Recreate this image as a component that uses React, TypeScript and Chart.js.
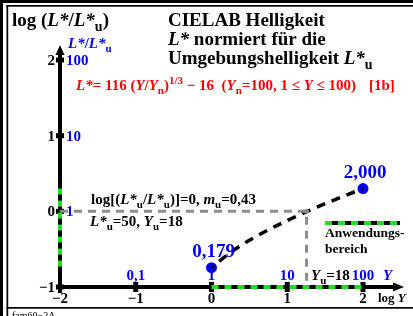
import React, { useEffect, useRef } from "react";
import { Chart, registerables } from "chart.js";
Chart.register(...registerables);

// ---- data ----
const curveLogY = [0, 0.25, 0.5, 0.75, 1, 1.25, 1.5, 1.75, 2];
const curveLogL = [-0.745, -0.544, -0.383, -0.245, -0.121, -0.007, 0.101, 0.203, 0.301];
const pointLogY = [0, 2];
const pointLogL = [-0.745, 0.301];
const pointLabels = ["0,179", "2,000"];
const refLineX = [-2, 1.255, 1.255];
const refLineY = [0, 0, -1];
const rangeYAxisX = [-2, -2];
const rangeYAxisY = [0.301, -0.745];
const rangeXAxisX = [0, 2];
const rangeXAxisY = [-1, -1];
const xTicks = [-2, -1, 0, 1, 2];
const xTickLabels = ["−2", "−1", "0", "1", "2"];
const yTicks = [-1, 0, 1, 2];
const yTickLabels = ["−1", "0", "1", "2"];
const xTopTicks = [-1, 0, 1, 2];
const xTopLabels = ["0,1", "1", "10", "100"];
const yRightTicks = [0, 1, 2];
const yRightLabels = ["1", "10", "100"];

const FAM = '"Liberation Serif", "DejaVu Serif", serif';
const BLUE = "#0000ff";
const RED = "#ff0000";
const GREEN = "#22dd22";

type Seg = { t: string; i?: boolean; sub?: boolean; sup?: boolean; n?: boolean };

function rich(
  ctx: CanvasRenderingContext2D,
  x: number,
  y: number,
  segs: Seg[],
  size: number,
  color: string,
  align: "left" | "center" | "right" = "left"
) {
  const font = (s: Seg) =>
    `${s.i ? "italic " : ""}${s.n ? "" : "bold "}${s.sub || s.sup ? Math.round(size * 0.72) : size}px ${FAM}`;
  let w = 0;
  for (const s of segs) {
    ctx.font = font(s);
    w += ctx.measureText(s.t).width;
  }
  let cx = align === "center" ? x - w / 2 : align === "right" ? x - w : x;
  ctx.fillStyle = color;
  ctx.textAlign = "left";
  ctx.textBaseline = "alphabetic";
  for (const s of segs) {
    ctx.font = font(s);
    const dy = s.sub ? size * 0.28 : s.sup ? -size * 0.42 : 0;
    ctx.fillText(s.t, cx, y + dy);
    cx += ctx.measureText(s.t).width;
  }
}

const decor = {
  id: "decor",
  beforeDatasetsDraw(chart: any) {
    const ctx: CanvasRenderingContext2D = chart.ctx;
    const xs = chart.scales.x;
    const ys = chart.scales.y;
    ctx.save();
    // frame
    ctx.fillStyle = "#000";
    ctx.fillRect(0, 0, 413, 3);
    ctx.fillRect(0, 0, 3, 316);
    ctx.fillRect(6.5, 5, 413, 1.7);
    ctx.fillRect(6.5, 5, 1.7, 316);
    ctx.fillRect(6.5, 307, 413, 1.7);

    const x0 = xs.getPixelForValue(-2);
    const y0 = ys.getPixelForValue(-1);
    const yTop = ys.getPixelForValue(2);
    const xRight = xs.getPixelForValue(2);
    ctx.strokeStyle = "#000";
    ctx.lineWidth = 4;
    ctx.beginPath();
    ctx.moveTo(x0, y0 + 6);
    ctx.lineTo(x0, yTop - 8);
    ctx.stroke();
    ctx.beginPath();
    ctx.moveTo(x0 - 2, y0);
    ctx.lineTo(xRight + 34, y0);
    ctx.stroke();
    // arrows
    ctx.beginPath();
    ctx.moveTo(x0, yTop - 15);
    ctx.lineTo(x0 - 4.5, yTop - 5);
    ctx.lineTo(x0 + 4.5, yTop - 5);
    ctx.closePath();
    ctx.fill();
    ctx.beginPath();
    ctx.moveTo(xRight + 41, y0);
    ctx.lineTo(xRight + 30, y0 - 4.5);
    ctx.lineTo(xRight + 30, y0 + 4.5);
    ctx.closePath();
    ctx.fill();
    // ticks
    for (const t of yTicks) {
      const py = ys.getPixelForValue(t);
      ctx.fillRect(x0 - 4, py - 2.5, 8, 5);
    }
    for (const t of xTicks) {
      if (t === -2) continue;
      const px = xs.getPixelForValue(t);
      ctx.fillRect(px - 2.5, y0 - 5, 5, 10);
    }
    ctx.restore();
  },
  afterDatasetsDraw(chart: any) {
    const ctx: CanvasRenderingContext2D = chart.ctx;
    const xs = chart.scales.x;
    const ys = chart.scales.y;
    const x0 = xs.getPixelForValue(-2);
    const y0 = ys.getPixelForValue(-1);
    ctx.save();
    // titles
    rich(ctx, 12, 26, [{ t: "log (" }, { t: "L*", i: true }, { t: "/" }, { t: "L*", i: true }, { t: "u", sub: true }, { t: ")" }], 19, "#000");
    rich(ctx, 168, 26, [{ t: "CIELAB Helligkeit" }], 19, "#000");
    rich(ctx, 168, 45, [{ t: "L*", i: true }, { t: " normiert für die" }], 19, "#000");
    rich(ctx, 168, 64, [{ t: "Umgebungshelligkeit " }, { t: "L*", i: true }, { t: "u", sub: true }], 19, "#000");
    rich(
      ctx,
      76,
      90,
      [
        { t: "L*", i: true },
        { t: "= 116 (" },
        { t: "Y", i: true },
        { t: "/" },
        { t: "Y", i: true },
        { t: "n", sub: true },
        { t: ")" },
        { t: "1/3", sup: true },
        { t: " − 16  (" },
        { t: "Y", i: true },
        { t: "n", sub: true },
        { t: "=100, 1 ≤ " },
        { t: "Y", i: true },
        { t: " ≤ 100)" },
      ],
      15,
      RED
    );
    rich(ctx, 369, 90, [{ t: "[1b]" }], 15, RED);
    // y axis labels
    rich(ctx, 68, 48, [{ t: "L*", i: true }, { t: "/" }, { t: "L*", i: true }, { t: "u", sub: true }], 15, BLUE);
    yTicks.forEach((t, k) => {
      const py = ys.getPixelForValue(t);
      rich(ctx, x0 - 5, py + 5, [{ t: yTickLabels[k] }], 15, "#000", "right");
    });
    yRightTicks.forEach((t, k) => {
      const py = ys.getPixelForValue(t);
      rich(ctx, x0 + 6, py + 5, [{ t: yRightLabels[k] }], 15, BLUE);
    });
    // x axis labels
    xTicks.forEach((t, k) => {
      const px = xs.getPixelForValue(t);
      rich(ctx, px, y0 + 16, [{ t: xTickLabels[k] }], 15, "#000", "center");
    });
    xTopTicks.forEach((t, k) => {
      const px = xs.getPixelForValue(t);
      rich(ctx, px, y0 - 7, [{ t: xTopLabels[k] }], 15, BLUE, "center");
    });
    rich(ctx, xs.getPixelForValue(2) + 20, y0 - 7, [{ t: "Y", i: true }], 15, BLUE);
    rich(ctx, 378, y0 + 15, [{ t: "log " }, { t: "Y", i: true }], 13, "#000");
    rich(ctx, 311, y0 - 7, [{ t: "Y", i: true }, { t: "u", sub: true }, { t: "=18" }], 15, "#000");
    // annotations
    rich(
      ctx,
      91,
      204,
      [
        { t: "log[(" },
        { t: "L*", i: true },
        { t: "u", sub: true },
        { t: "/" },
        { t: "L*", i: true },
        { t: "u", sub: true },
        { t: ")]=0, " },
        { t: "m", i: true },
        { t: "u", sub: true },
        { t: "=0,43" },
      ],
      15,
      "#000"
    );
    rich(ctx, 90, 226, [{ t: "L*", i: true }, { t: "u", sub: true }, { t: "=50, " }, { t: "Y", i: true }, { t: "u", sub: true }, { t: "=18" }], 15, "#000");
    // point labels
    rich(ctx, xs.getPixelForValue(pointLogY[0]) + 2, ys.getPixelForValue(pointLogL[0]) - 11, [{ t: pointLabels[0] }], 19, BLUE, "center");
    rich(ctx, xs.getPixelForValue(pointLogY[1]) + 2, ys.getPixelForValue(pointLogL[1]) - 11, [{ t: pointLabels[1] }], 19, BLUE, "center");
    // legend
    ctx.lineWidth = 4;
    ctx.strokeStyle = "#000";
    ctx.setLineDash([]);
    ctx.beginPath();
    ctx.moveTo(325, 223);
    ctx.lineTo(400, 223);
    ctx.stroke();
    ctx.strokeStyle = GREEN;
    ctx.setLineDash([7, 6]);
    ctx.beginPath();
    ctx.moveTo(325, 223);
    ctx.lineTo(400, 223);
    ctx.stroke();
    ctx.setLineDash([]);
    rich(ctx, 325, 237, [{ t: "Anwendungs-" }], 13.5, "#000");
    rich(ctx, 325, 253, [{ t: "bereich" }], 13.5, "#000");
    rich(ctx, 12, 319, [{ t: "fam60−2A", n: true }], 10, "#000");
    ctx.restore();
  },
};

export default function App() {
  const ref = useRef<HTMLCanvasElement | null>(null);
  useEffect(() => {
    if (!ref.current) return;
    const pts = (xa: number[], ya: number[]) => xa.map((x, k) => ({ x, y: ya[k] }));
    const chart = new Chart(ref.current, {
      type: "scatter",
      data: {
        datasets: [
          {
            data: pts(refLineX, refLineY),
            showLine: true,
            borderColor: "#8c8c8c",
            borderWidth: 3,
            borderDash: [8, 6],
            pointRadius: [0, 2.5, 0],
            pointBackgroundColor: "#8c8c8c",
            pointBorderWidth: 0,
            clip: false,
          } as any,
          {
            data: pts(rangeYAxisX, rangeYAxisY),
            showLine: true,
            borderColor: GREEN,
            borderWidth: 4,
            borderDash: [6, 6],
            pointRadius: 0,
            clip: false,
          },
          {
            data: pts(rangeXAxisX, rangeXAxisY),
            showLine: true,
            borderColor: GREEN,
            borderWidth: 4,
            borderDash: [7, 6],
            pointRadius: 0,
            clip: false,
          },
          {
            data: pts(curveLogY, curveLogL),
            showLine: true,
            borderColor: "#000",
            borderWidth: 3.5,
            borderDash: [9, 7],
            borderDashOffset: -10,
            pointRadius: 0,
            cubicInterpolationMode: "monotone",
            clip: false,
          } as any,
          {
            data: pts(pointLogY, pointLogL),
            showLine: false,
            pointRadius: 5.5,
            pointBackgroundColor: BLUE,
            pointBorderWidth: 0,
            clip: false,
          } as any,
        ],
      },
      options: {
        responsive: false,
        animation: false,
        layout: { padding: { left: 60, right: 50, top: 60, bottom: 29 } },
        scales: {
          x: { type: "linear", min: -2, max: 2, display: false },
          y: { type: "linear", min: -1, max: 2, display: false },
        },
        plugins: { legend: { display: false }, tooltip: { enabled: false } },
      },
      plugins: [decor],
    });
    return () => chart.destroy();
  }, []);
  return (
    <div style={{ position: "fixed", left: 0, top: 0, width: 413, height: 316, background: "#fff" }}>
      <canvas ref={ref} width={413} height={316} style={{ display: "block" }} />
    </div>
  );
}
